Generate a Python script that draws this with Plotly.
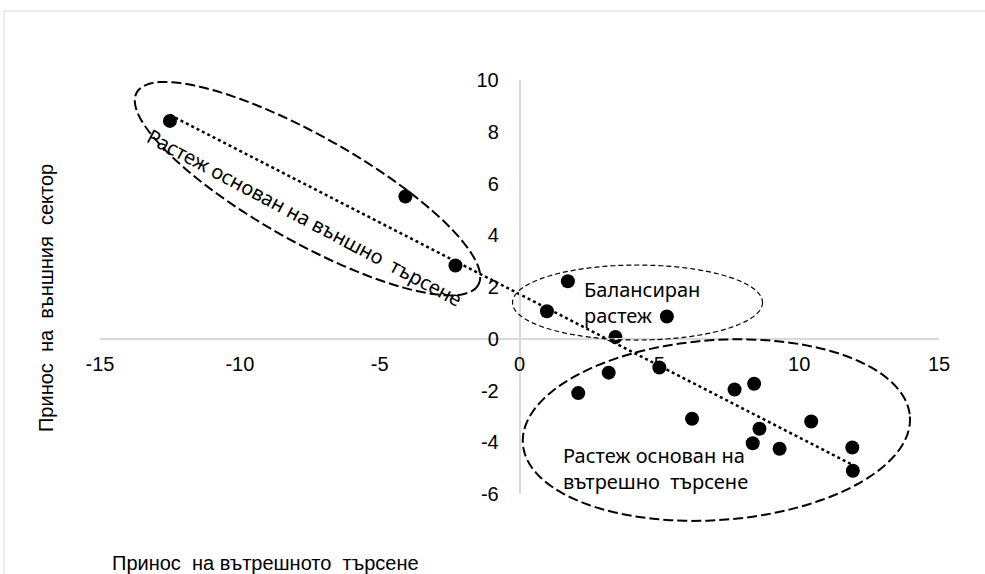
import numpy as np
import plotly.graph_objects as go

# ---- data ----
x_vals = [-12.5, -4.08, -2.29, 1.73, 0.98, 5.27, 3.43, 3.19, 5.0, 2.1,
          6.17, 7.69, 8.39, 8.58, 8.34, 9.3, 10.43, 11.9, 11.92]
y_vals = [8.42, 5.5, 2.83, 2.22, 1.06, 0.86, 0.07, -1.31, -1.11, -2.1,
          -3.09, -1.96, -1.74, -3.48, -4.04, -4.25, -3.2, -4.2, -5.1]
x_ticks = [-15, -10, -5, 0, 5, 10, 15]
x_tick_labels = ["-15", "-10", "-5", "0", "5", "10", "15"]
y_ticks = [-6, -4, -2, 0, 2, 4, 6, 8, 10]
y_tick_labels = ["-6", "-4", "-2", "0", "2", "4", "6", "8", "10"]
x_title = "Принос\u00a0 на вътрешното\u00a0 търсене"
y_title = "Принос\u00a0 на\u00a0 външния\u00a0 сектор"
group_labels = ["Растеж основан на външно\u00a0 търсене",
                "Балансиран<br>растеж",
                "Растеж основан на<br>вътрешно\u00a0 търсене"]

# ---- layout geometry ----
W, H = 985, 574
ML, MR, MT, MB = 100, 46, 80, 80
PW, PH = W - ML - MR, H - MT - MB
XR = (-15, 15)
YR = (-6, 10)

def to_px(x, y):
    px = ML + (x - XR[0]) / (XR[1] - XR[0]) * PW
    py = MT + (YR[1] - y) / (YR[1] - YR[0]) * PH
    return px, py

def px_to_paper(px, py):
    return (px - ML) / PW, (H - MB - py) / PH

def ellipse_path(cx, cy, a, b, ang_deg, n=160):
    cpx, cpy = to_px(cx, cy)
    th = np.radians(ang_deg)
    t = np.linspace(0, 2 * np.pi, n, endpoint=False)
    X, Y = a * np.cos(t), b * np.sin(t)
    sx = cpx + X * np.cos(th) - Y * np.sin(th)
    sy = cpy + X * np.sin(th) + Y * np.cos(th)
    pts = [px_to_paper(u, v) for u, v in zip(sx, sy)]
    return "M " + " L ".join(f"{u:.5f},{v:.5f}" for u, v in pts) + " Z"

# trend line (least squares over the data)
k, c = np.polyfit(x_vals, y_vals, 1)
tx = [min(x_vals), max(x_vals)]
ty = [k * v + c for v in tx]

fig = go.Figure()
fig.add_trace(go.Scatter(x=tx, y=ty, mode="lines",
                         line=dict(color="black", width=2.5, dash="dot"),
                         hoverinfo="skip", showlegend=False))
fig.add_trace(go.Scatter(x=x_vals, y=y_vals, mode="markers",
                         marker=dict(color="black", size=14),
                         showlegend=False))

shapes = [
    dict(type="rect", xref="paper", yref="paper",
         x0=px_to_paper(4, 0)[0], x1=1.3, y0=-0.6, y1=px_to_paper(0, 11)[1],
         line=dict(color="#d9d9d9", width=1), layer="below"),
    dict(type="path", xref="paper", yref="paper",
         path=ellipse_path(-7.58, 5.80, 196, 53, 29.4),
         line=dict(color="black", width=2, dash="10px,4px")),
    dict(type="path", xref="paper", yref="paper",
         path=ellipse_path(4.22, 1.40, 125, 37.5, 0),
         line=dict(color="black", width=1.2, dash="5px,3px")),
    dict(type="path", xref="paper", yref="paper",
         path=ellipse_path(7.04, -3.53, 194, 90, -4),
         line=dict(color="black", width=2, dash="10px,4px")),
]

ann_font = dict(family="Noto Sans", size=20, color="black")
annotations = [
    dict(x=-7.69, y=4.68, xref="x", yref="y", text=group_labels[0],
         textangle=28, showarrow=False, font=ann_font),
    dict(x=2.25, y=1.42, xref="x", yref="y", text=group_labels[1],
         xanchor="left", yanchor="middle", align="left",
         showarrow=False, font=ann_font),
    dict(x=1.47, y=-5.03, xref="x", yref="y", text=group_labels[2],
         xanchor="left", yanchor="middle", align="left",
         showarrow=False, font=ann_font),
    dict(x=px_to_paper(110, 0)[0], y=px_to_paper(0, 563)[1],
         xref="paper", yref="paper", text=x_title, xanchor="left",
         yanchor="middle", showarrow=False,
         font=dict(family="Liberation Sans", size=20, color="black")),
    dict(x=px_to_paper(46, 0)[0], y=px_to_paper(0, 298)[1],
         xref="paper", yref="paper", text=y_title, textangle=-90,
         xanchor="center", yanchor="middle", showarrow=False,
         font=dict(family="Liberation Sans", size=20, color="black")),
]

tickfont = dict(family="Liberation Sans", size=20, color="black")
fig.update_layout(
    width=W, height=H,
    margin=dict(l=ML, r=MR, t=MT, b=MB),
    paper_bgcolor="white", plot_bgcolor="white",
    shapes=shapes, annotations=annotations,
    xaxis=dict(range=list(XR), tickvals=x_ticks, ticktext=x_tick_labels,
               showgrid=False, zeroline=False, showline=True,
               linecolor="#d9d9d9", linewidth=1.5, anchor="free",
               position=(0 - YR[0]) / (YR[1] - YR[0]),
               ticks="", ticklabelstandoff=7, tickfont=tickfont),
    yaxis=dict(range=list(YR), tickvals=y_ticks, ticktext=y_tick_labels,
               showgrid=False, zeroline=False, showline=True,
               linecolor="#d9d9d9", linewidth=1.5, anchor="free",
               position=(0 - XR[0]) / (XR[1] - XR[0]),
               ticks="", ticklabelstandoff=16, tickfont=tickfont),
)

fig.write_html("out.html",
               config={"displayModeBar": False},
               post_script="document.body.style.margin='0';"
                           "document.body.style.overflow='hidden';")
